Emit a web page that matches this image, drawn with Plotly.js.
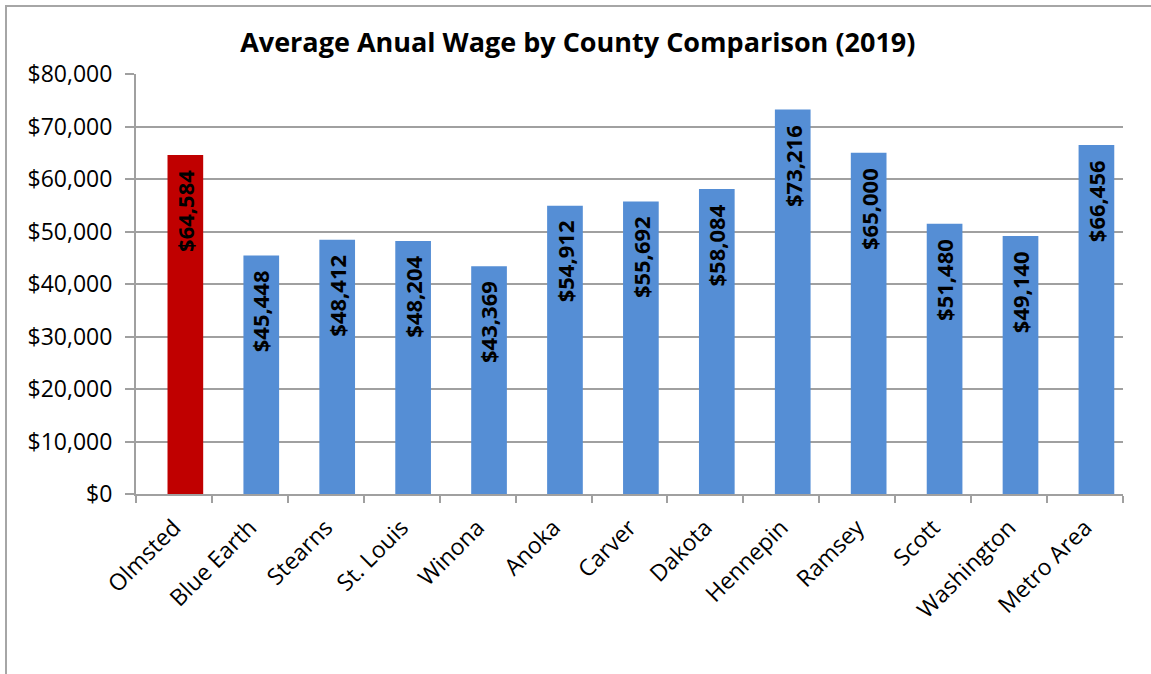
<!DOCTYPE html>
<html>
<head>
<meta charset="utf-8">
<script src="https://cdn.plot.ly/plotly-3.0.1.min.js"></script>
<style>
  html, body { margin: 0; padding: 0; overflow: hidden; background: #fff; }
  #chart { width: 1151px; height: 674px; }
  #frame { position: absolute; left: 5px; top: 5px; width: 1300px; height: 900px;
           border: 2px solid #a6a6a6; pointer-events: none; }
</style>
</head>
<body>
<div id="chart"></div>
<div id="frame"></div>
<script>
const counties = ["Olmsted", "Blue Earth", "Stearns", "St. Louis", "Winona", "Anoka", "Carver",
                  "Dakota", "Hennepin", "Ramsey", "Scott", "Washington", "Metro Area"];
const wages = [64584, 45448, 48412, 48204, 43369, 54912, 55692, 58084, 73216, 65000, 51480, 49140, 66456];
const tickValues = [0, 10000, 20000, 30000, 40000, 50000, 60000, 70000, 80000];
const tickLabels = ["$0", "$10,000", "$20,000", "$30,000", "$40,000", "$50,000", "$60,000", "$70,000", "$80,000"];

const barColors = counties.map(c => c === "Olmsted" ? "#c00000" : "#558ed5");
const fmt = v => "$" + v.toLocaleString("en-US");

const FONT = "Open Sans, Liberation Sans, sans-serif";

const annotations = counties.map((c, i) => ({
  x: c, y: wages[i], xref: "x", yref: "y",
  text: "<b>" + fmt(wages[i]) + "</b>",
  showarrow: false,
  textangle: -90,
  xanchor: "center", yanchor: "top",
  xshift: 11, yshift: -13,
  font: { family: FONT, size: 22, color: "#000" }
}));

Plotly.newPlot("chart", [{
  type: "bar",
  x: counties,
  y: wages,
  width: 0.47,
  offset: -0.085,
  marker: { color: barColors, line: { width: 0 } },
  hoverinfo: "x+y"
}], {
  width: 1151,
  height: 674,
  margin: { l: 136, r: 28, t: 74, b: 180 },
  paper_bgcolor: "#fff",
  plot_bgcolor: "#fff",
  showlegend: false,
  annotations: annotations,
  title: {
    text: "<b>Average Anual Wage by County Comparison (2019)</b>",
    font: { family: FONT, size: 27, color: "#000" },
    x: 0.502, xanchor: "center",
    y: 0.937, yanchor: "middle"
  },
  xaxis: {
    type: "category",
    tickangle: -45,
    tickfont: { family: FONT, size: 23, color: "#000" },
    showline: true, linecolor: "#a0a0a0", linewidth: 2,
    ticks: "outside", tickson: "boundaries", ticklen: 7, tickcolor: "#a0a0a0", tickwidth: 2,
    ticklabelstandoff: 9,
    showgrid: false,
    fixedrange: true
  },
  yaxis: {
    range: [0, 80000],
    tickvals: tickValues,
    ticktext: tickLabels,
    tickfont: { family: FONT, size: 23, color: "#000" },
    showline: true, linecolor: "#a0a0a0", linewidth: 2,
    ticks: "outside", ticklen: 9, tickcolor: "#a0a0a0", tickwidth: 2,
    gridcolor: "#a0a0a0", gridwidth: 2,
    zeroline: false,
    ticklabelstandoff: 8,
    fixedrange: true
  }
}, { displayModeBar: false, staticPlot: true });
</script>
</body>
</html>
